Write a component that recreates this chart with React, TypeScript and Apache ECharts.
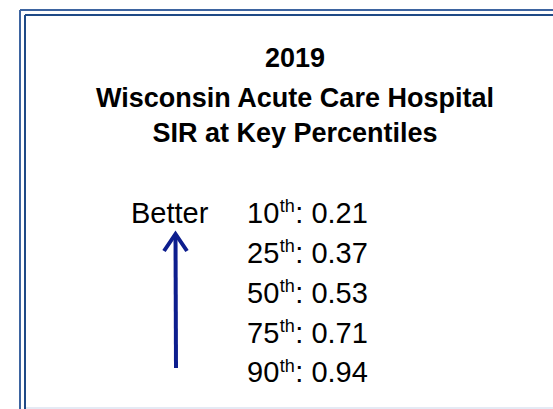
import React, { useEffect, useRef } from "react";
import * as echarts from "echarts";

const titleLines = ["2019", "Wisconsin Acute Care Hospital", "SIR at Key Percentiles"];
const percentiles = ["10", "25", "50", "75", "90"];
const sirValues = [0.21, 0.37, 0.53, 0.71, 0.94];
const ordinalSuffix = "th";
const directionLabel = "Better";

export default function App() {
  const ref = useRef<HTMLDivElement>(null);
  useEffect(() => {
    if (!ref.current) return;
    const chart = echarts.init(ref.current, null, { renderer: "svg" });
    const fam = "'Liberation Sans', Arial, sans-serif";
    const bodyFont = `29px ${fam}`;
    const supFont = `18px ${fam}`;
    const cv = document.createElement("canvas");
    const ctx = cv.getContext("2d")!;
    const measure = (t: string, f: string) => {
      ctx.font = f;
      return ctx.measureText(t).width;
    };
    const graphics: any[] = [];
    const outer = "#3D64A0";
    const inner = "#1F4A86";
    graphics.push(
      { type: "line", shape: { x1: 20, y1: 10, x2: 553, y2: 10 }, style: { stroke: outer, lineWidth: 2 } },
      { type: "line", shape: { x1: 20, y1: 10, x2: 20, y2: 409 }, style: { stroke: outer, lineWidth: 2 } },
      { type: "line", shape: { x1: 25, y1: 15, x2: 553, y2: 15 }, style: { stroke: inner, lineWidth: 2 } },
      { type: "line", shape: { x1: 25, y1: 15, x2: 25, y2: 409 }, style: { stroke: inner, lineWidth: 2 } },
      { type: "line", shape: { x1: 26, y1: 408, x2: 553, y2: 408 }, style: { stroke: "#DCE3F0", lineWidth: 1.5 } }
    );
    const titleY = [57.5, 97.5, 133];
    titleLines.forEach((t, i) => {
      graphics.push({
        type: "text",
        x: 295,
        y: titleY[i],
        style: {
          text: t,
          font: `bold 27px ${fam}`,
          fill: "#000",
          textAlign: "center",
          textVerticalAlign: "middle",
        },
      });
    });
    graphics.push({
      type: "text",
      x: 131,
      y: 213,
      style: {
        text: directionLabel,
        font: bodyFont,
        fill: "#000",
        textAlign: "left",
        textVerticalAlign: "middle",
      },
    });
    const arrowColor = "#0D1E8E";
    graphics.push(
      { type: "line", shape: { x1: 176, y1: 368, x2: 175.5, y2: 235 }, style: { stroke: arrowColor, lineWidth: 4 } },
      {
        type: "polyline",
        shape: { points: [[164, 251], [175.5, 234], [187, 251]] },
        style: { stroke: arrowColor, lineWidth: 4, fill: "none", lineJoin: "miter" },
      }
    );
    const rowY = [212.5, 252.5, 292.5, 332.5, 372];
    const x0 = 247;
    percentiles.forEach((p, i) => {
      const w1 = measure(p, bodyFont);
      const w2 = measure(ordinalSuffix, supFont);
      graphics.push(
        {
          type: "text",
          x: x0,
          y: rowY[i],
          style: { text: p, font: bodyFont, fill: "#000", textAlign: "left", textVerticalAlign: "middle" },
        },
        {
          type: "text",
          x: x0 + w1 + 0.5,
          y: rowY[i] - 6.5,
          style: { text: ordinalSuffix, font: supFont, fill: "#000", textAlign: "left", textVerticalAlign: "middle" },
        },
        {
          type: "text",
          x: x0 + w1 + w2 + 1,
          y: rowY[i],
          style: {
            text: `: ${sirValues[i].toFixed(2)}`,
            font: bodyFont,
            fill: "#000",
            textAlign: "left",
            textVerticalAlign: "middle",
          },
        }
      );
    });
    chart.setOption({
      animation: false,
      backgroundColor: "#fff",
      graphic: graphics,
    });
    return () => chart.dispose();
  }, []);
  return <div ref={ref} style={{ width: 553, height: 409, position: "absolute", left: 0, top: 0 }} />;
}
